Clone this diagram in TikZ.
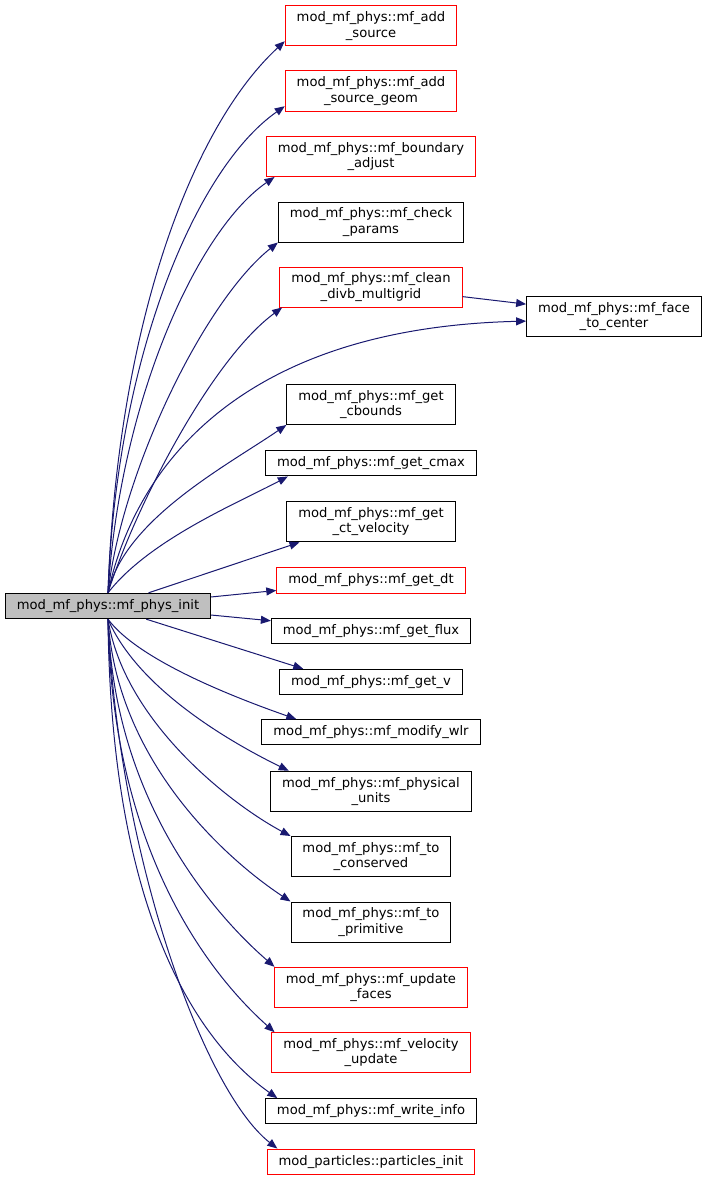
\documentclass[tikz,border=0pt]{standalone}
\usepackage{fontspec}
\setmainfont{DejaVu Sans}
\usetikzlibrary{arrows.meta}

\definecolor{midnightblue}{HTML}{191970}
\definecolor{grey75}{HTML}{BFBFBF}

\begin{document}
\begin{tikzpicture}[
		x=0.75pt, y=0.75pt,
		every node/.style={rectangle, draw, line width=0.75pt, align=center,
			font=\fontsize{9.85}{11.5}\selectfont,
			inner xsep=8.6pt, inner ysep=0pt, minimum height=19pt},
		two/.style={minimum height=30pt},
		hot/.style={draw=red},
		call/.style={draw=midnightblue, line width=0.75pt, -{Triangle[length=7.5pt, width=6pt]}}
	]
  \useasboundingbox (0,0) rectangle (707,-1181);
  \node (phys_init) [fill=grey75] at (108, -606) {mod\_mf\_phys::mf\_phys\_init};
  \node (add_src) [two, hot] at (371, -26) {mod\_mf\_phys::mf\_add\\\_source};
  \node (add_src_geom) [two, hot] at (371, -91) {mod\_mf\_phys::mf\_add\\\_source\_geom};
  \node (bnd_adjust) [two, hot] at (371, -156.5) {mod\_mf\_phys::mf\_boundary\\\_adjust};
  \node (check_params) [two] at (371, -222) {mod\_mf\_phys::mf\_check\\\_params};
  \node (clean_divb) [two, hot] at (371, -287) {mod\_mf\_phys::mf\_clean\\\_divb\_multigrid};
  \node (face_center) [two] at (614, -316.5) {mod\_mf\_phys::mf\_face\\\_to\_center};
  \node (get_cbounds) [two] at (371, -404.5) {mod\_mf\_phys::mf\_get\\\_cbounds};
  \node (get_cmax) at (371, -463.3) {mod\_mf\_phys::mf\_get\_cmax};
  \node (get_ct_vel) [two] at (371, -521.8) {mod\_mf\_phys::mf\_get\\\_ct\_velocity};
  \node (get_dt) [hot] at (371, -580.5) {mod\_mf\_phys::mf\_get\_dt};
  \node (get_flux) at (371, -631.3) {mod\_mf\_phys::mf\_get\_flux};
  \node (get_v) at (371, -682) {mod\_mf\_phys::mf\_get\_v};
  \node (modify_wlr) at (371, -732.3) {mod\_mf\_phys::mf\_modify\_wlr};
  \node (phys_units) [two] at (371, -791.3) {mod\_mf\_phys::mf\_physical\\\_units};
  \node (to_cons) [two] at (371, -856.5) {mod\_mf\_phys::mf\_to\\\_conserved};
  \node (to_prim) [two] at (371, -922) {mod\_mf\_phys::mf\_to\\\_primitive};
  \node (upd_faces) [two, hot] at (371, -987.3) {mod\_mf\_phys::mf\_update\\\_faces};
  \node (vel_update) [two, hot] at (371, -1052.7) {mod\_mf\_phys::mf\_velocity\\\_update};
  \node (write_info) at (371, -1111.3) {mod\_mf\_phys::mf\_write\_info};
  \node (part_init) [hot] at (371, -1161.7) {mod\_particles::particles\_init};
  % calls going up
  \draw [call] (phys_init.north) .. controls +(9,263) and +(-95,-88) .. (add_src.190);
  \draw [call] (phys_init.north) .. controls +(8,233) and +(-90,-63) .. (add_src_geom.190);
  \draw [call] (phys_init.north) .. controls +(12,193) and +(-77,-53) .. (bnd_adjust.192);
  \draw [call] (phys_init.north) .. controls +(14,123) and +(-73,-58) .. (check_params.south west);
  \draw [call] (phys_init.north) .. controls +(26,83) and +(-72,-53) .. (clean_divb.193);
  \draw [call] (phys_init.north) .. controls +(26,123) and +(-289,-7) .. (face_center.183);
  \draw [call] (clean_divb.-6) -- (face_center.172);
  \draw [call] (phys_init.north) .. controls +(16,73) and +(-60,-41) .. (get_cbounds.south west);
  \draw [call] (phys_init.north) .. controls +(41,53) and +(-49,-26) .. (get_cmax.189);
  % nearly straight ones
  \draw [call] (phys_init.18) -- (get_ct_vel.196);
  \draw [call] (phys_init.5) -- (get_dt.186);
  \draw [call] (phys_init.-5) -- (get_flux.174);
  \draw [call] (phys_init.-19) -- (get_v.169);
  % calls going down
  \draw [call] (phys_init.south) .. controls +(31,-42) and +(-57,20) .. (modify_wlr.170);
  \draw [call] (phys_init.south) .. controls +(31,-72) and +(-53,26) .. (phys_units.166);
  \draw [call] (phys_init.south) .. controls +(16,-102) and +(-60,32) .. (to_cons.north west);
  \draw [call] (phys_init.south) .. controls +(9,-142) and +(-65,43) .. (to_prim.north west);
  \draw [call] (phys_init.south) .. controls +(6,-182) and +(-60,52) .. (upd_faces.168);
  \draw [call] (phys_init.south) .. controls +(4,-232) and +(-65,58) .. (vel_update.168);
  \draw [call] (phys_init.south) .. controls +(3,-302) and +(-76,54) .. (write_info.172);
  \draw [call] (phys_init.south) .. controls +(10,-232) and +(-75,59) .. (part_init.172);
\end{tikzpicture}
\end{document}
